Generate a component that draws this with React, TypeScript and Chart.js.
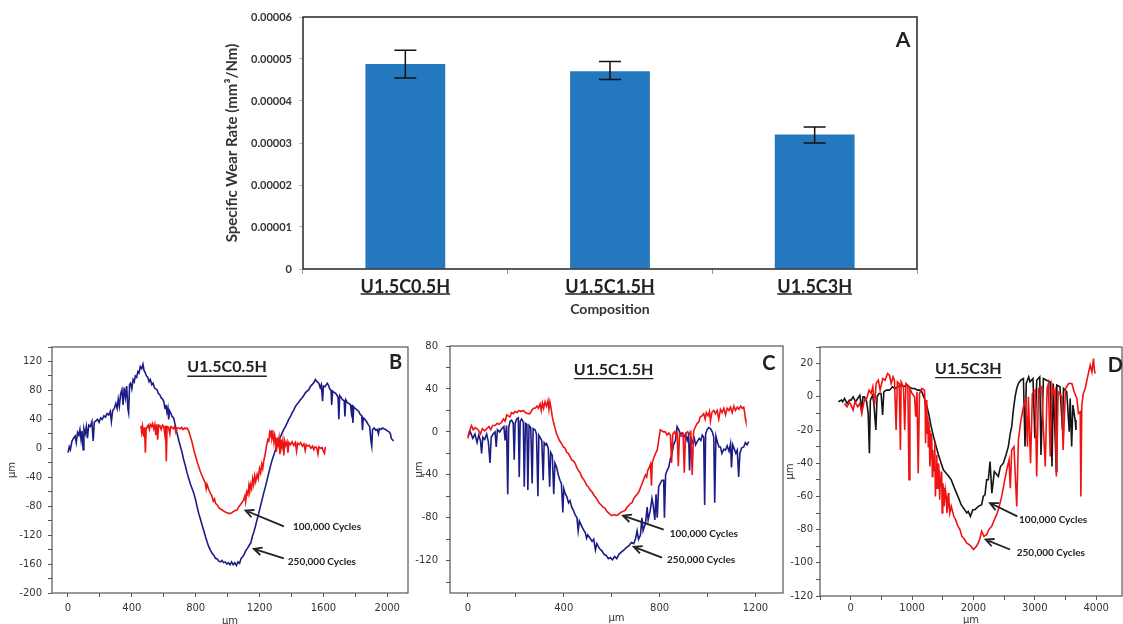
import { useEffect, useRef } from "react";
import { Chart, registerables } from "chart.js";

Chart.register(...registerables);

type Pt = [number, number];

// ---------- Panel A: specific wear rate per composition ----------
const COMPOSITIONS = ["U1.5C0.5H", "U1.5C1.5H", "U1.5C3H"];
const WEAR_RATE = [0.0000488, 0.0000471, 0.000032];
const WEAR_ERR_LOW = [0.0000455, 0.0000451, 0.00003];
const WEAR_ERR_HIGH = [0.0000521, 0.0000494, 0.0000338];
const WEAR_TICKS = [0, 0.00001, 0.00002, 0.00003, 0.00004, 0.00005, 0.00006];

const CYCLE_LABELS = ["100,000 Cycles", "250,000 Cycles"];

// ---------- Panel B: U1.5C0.5H surface profiles (µm vs µm) ----------
const B_100K: Pt[] = [
  [457, 31], [462, 22], [467, 30], [474, 16], [479, 29], [485, -6], [490, 28], [495, 29], [503, 32], [510, 26],
  [516, 33], [524, 30], [530, 34], [537, 27], [544, 33], [550, 18], [556, 33], [562, 12], [568, 32], [576, 31],
  [584, 26], [592, 32], [600, 30], [606, 20], [611, 31], [616, -18], [621, 30], [630, 29], [638, 20], [644, 30],
  [652, 29], [660, 27], [668, 30], [676, 22], [684, 28], [694, 28], [702, 27], [712, 29], [720, 26], [730, 28],
  [738, 27], [746, 28], [756, 24], [767, 16], [778, 8], [788, -2], [798, -10], [808, -18], [819, -25], [829, -32],
  [840, -38], [850, -43], [860, -48], [866, -56], [871, -50], [882, -57], [892, -62], [902, -66], [910, -73], [918, -70],
  [924, -76], [934, -78], [945, -82], [955, -84], [966, -85], [976, -87], [986, -88], [997, -89], [1007, -90], [1018, -90],
  [1028, -89], [1039, -87], [1049, -86], [1060, -85], [1070, -81], [1080, -78], [1090, -75], [1101, -71], [1108, -66], [1113, -74],
  [1120, -60], [1127, -64], [1133, -52], [1138, -60], [1143, -50], [1150, -56], [1157, -42], [1163, -50], [1170, -38], [1176, -46],
  [1185, -36], [1192, -42], [1200, -28], [1207, -34], [1214, -22], [1220, -28], [1226, -18], [1234, -10], [1240, -2], [1246, 6],
  [1252, 12], [1258, 10], [1264, 22], [1270, 18], [1273, 25], [1278, 14], [1284, 20], [1290, 8], [1295, 18], [1300, 12],
  [1305, -5], [1310, 15], [1316, 5], [1322, 14], [1328, -8], [1334, 12], [1340, 2], [1346, 11], [1352, -10], [1358, 10],
  [1364, 4], [1372, 9], [1378, -6], [1384, 8], [1394, 5], [1404, 9], [1414, 4], [1424, 8], [1432, -4], [1438, 7],
  [1448, 5], [1458, 8], [1468, 3], [1478, 6], [1486, -3], [1492, 5], [1502, 3], [1512, 4], [1522, 0], [1532, 3],
  [1540, -2], [1548, 2], [1558, 1], [1566, -8], [1572, 2], [1582, 0], [1592, 1], [1600, -4], [1607, -7], [1612, 2],
];

const B_250K: Pt[] = [
  [0, -6], [8, 2], [15, -2], [25, 10], [35, 14], [45, 17], [52, 8], [60, 22], [68, 18], [75, 26],
  [82, 12], [88, 24], [95, -2], [100, 27], [108, 20], [115, 30], [122, 14], [130, 32], [140, 30], [150, 37],
  [158, 10], [165, 36], [175, 38], [185, 40], [195, 36], [205, 42], [215, 40], [225, 45], [235, 43], [245, 48],
  [255, 46], [265, 51], [272, 37], [280, 52], [290, 55], [300, 62], [308, 55], [315, 68], [322, 58], [330, 75],
  [338, 81], [345, 60], [352, 84], [360, 70], [368, 86], [375, 55], [380, 49], [386, 88], [392, 90], [400, 82],
  [408, 95], [415, 92], [422, 100], [430, 98], [438, 106], [445, 104], [453, 113], [462, 110], [470, 116], [476, 108],
  [485, 104], [492, 100], [500, 98], [508, 92], [516, 95], [525, 88], [533, 90], [541, 84], [550, 82], [558, 81],
  [566, 76], [575, 74], [583, 70], [592, 68], [600, 65], [608, 55], [614, 60], [620, 50], [626, 56], [631, 40],
  [636, 52], [645, 48], [652, 44], [662, 42], [672, 32], [683, 21], [695, 10], [705, 2], [715, -6], [725, -16],
  [735, -24], [746, -34], [757, -42], [768, -50], [778, -56], [788, -62], [798, -70], [808, -80], [819, -90], [830, -98],
  [840, -106], [851, -114], [861, -122], [872, -130], [882, -136], [893, -141], [903, -145], [914, -148], [924, -152], [935, -153],
  [945, -156], [955, -157], [965, -155], [975, -158], [985, -157], [995, -160], [1005, -158], [1015, -161], [1025, -157], [1035, -161],
  [1045, -158], [1055, -162], [1065, -157], [1075, -159], [1085, -152], [1095, -150], [1105, -146], [1115, -141], [1125, -138], [1135, -134],
  [1145, -131], [1155, -122], [1165, -115], [1174, -108], [1184, -99], [1195, -90], [1206, -80], [1216, -71], [1226, -62], [1237, -53],
  [1247, -44], [1258, -34], [1268, -25], [1279, -16], [1290, -9], [1300, -2], [1310, 5], [1320, 10], [1331, 16], [1341, 21],
  [1352, 26], [1362, 30], [1373, 35], [1383, 40], [1394, 44], [1404, 49], [1415, 53], [1425, 58], [1435, 61], [1446, 64],
  [1456, 67], [1467, 70], [1477, 73], [1488, 77], [1498, 79], [1509, 81], [1520, 86], [1530, 88], [1540, 91], [1550, 95],
  [1560, 92], [1571, 90], [1580, 84], [1587, 88], [1595, 65], [1600, 86], [1610, 85], [1618, 88], [1624, 90], [1632, 87],
  [1640, 82], [1648, 80], [1652, 60], [1658, 79], [1668, 77], [1677, 76], [1686, 73], [1692, 70], [1697, 40], [1702, 73],
  [1712, 70], [1720, 67], [1730, 66], [1735, 44], [1740, 67], [1750, 63], [1760, 62], [1770, 60], [1775, 50], [1780, 60],
  [1785, 35], [1790, 57], [1800, 55], [1810, 53], [1822, 51], [1830, 47], [1840, 45], [1845, 25], [1850, 42], [1860, 40],
  [1870, 37], [1880, 33], [1890, 30], [1898, 10], [1903, 3], [1908, 26], [1918, 28], [1928, 25], [1937, 26], [1945, 20],
  [1950, 27], [1960, 26], [1970, 28], [1979, 27], [1990, 26], [2000, 24], [2010, 23], [2020, 20], [2025, 14], [2031, 12],
  [2040, 10],
];

// ---------- Panel C: U1.5C1.5H surface profiles ----------
const C_100K: Pt[] = [
  [0, -6], [5, 0], [15, 6], [22, 2], [30, 4], [43, 2], [52, -2], [60, 3], [70, 1], [78, 3],
  [88, 5], [95, 2], [103, 6], [113, 6], [122, 8], [130, 7], [140, 9], [148, 12], [155, 10], [162, 16],
  [168, 15], [175, 14], [182, 18], [190, 17], [196, 19], [205, 18], [214, 20], [222, 19], [231, 20], [240, 18],
  [250, 17], [259, 17], [266, 20], [273, 22], [280, 22], [288, 24], [294, 22], [301, 26], [306, 20], [311, 27],
  [316, 22], [322, 28], [328, 24], [334, 29], [338, 21], [342, 28], [347, 22], [352, 14], [358, 8], [363, 4],
  [370, -2], [376, -5], [382, -8], [391, -11], [398, -14], [405, -15], [412, -19], [419, -20], [426, -23], [433, -26],
  [440, -27], [447, -29], [454, -33], [461, -36], [468, -38], [475, -42], [482, -44], [490, -47], [496, -50], [502, -51],
  [510, -54], [518, -56], [526, -59], [537, -62], [547, -66], [556, -68], [564, -70], [572, -71], [580, -74], [590, -76],
  [600, -78], [610, -77], [618, -78], [628, -77], [637, -75], [647, -74], [657, -73], [664, -70], [670, -69], [677, -67],
  [685, -66], [692, -62], [699, -60], [706, -58], [713, -56], [720, -52], [727, -48], [734, -44], [741, -40], [746, -42],
  [750, -36], [755, -34], [762, -30], [766, -50], [769, -29], [776, -24], [783, -20], [790, -17], [796, -8], [800, -2],
  [803, 2], [810, 1], [817, 0], [824, 0], [831, -3], [838, -1], [845, -3], [850, -29], [855, -2], [862, 0],
  [868, -3], [873, -1], [878, -32], [883, -2], [890, -4], [898, -2], [903, -38], [908, -3], [916, 0], [924, -2],
  [930, 0], [936, -40], [942, 1], [950, 5], [957, 8], [963, 9], [970, 14], [977, 15], [984, 17], [990, 12],
  [995, 18], [1002, 15], [1008, 19], [1012, 10], [1018, 18], [1026, 20], [1033, 17], [1040, 20], [1047, 12], [1054, 21],
  [1061, 18], [1068, 22], [1075, 16], [1082, 22], [1089, 20], [1096, 23], [1103, 18], [1110, 24], [1117, 20], [1124, 23],
  [1131, 21], [1138, 24], [1145, 22], [1151, 23], [1155, 18], [1158, 12], [1160, 10],
];

const C_250K: Pt[] = [
  [0, -4], [10, 0], [20, -6], [29, -2], [38, -10], [45, -3], [52, -8], [57, -20], [62, -5], [70, -7],
  [78, -2], [85, -9], [92, -29], [97, -5], [105, -2], [113, 0], [118, -14], [123, 2], [132, 0], [141, 3],
  [150, 5], [155, -8], [161, 6], [166, -58], [170, 4], [176, 10], [182, 11], [189, 8], [193, -26], [197, 8],
  [203, 12], [210, 13], [214, -42], [218, 10], [224, 12], [231, 9], [235, -51], [240, 8], [246, 7], [250, -54],
  [255, 6], [262, 4], [268, -48], [272, 3], [280, 2], [286, -2], [292, -60], [296, -3], [301, -5], [308, -8],
  [314, -45], [318, -10], [325, -12], [328, -11], [335, -15], [341, -51], [345, -19], [352, -22], [358, -58], [363, -29],
  [370, -33], [377, -40], [384, -45], [390, -48], [396, -75], [400, -53], [405, -57], [412, -60], [420, -66], [426, -64],
  [433, -70], [440, -73], [447, -77], [455, -80], [460, -92], [465, -83], [475, -88], [482, -91], [490, -94], [495, -99],
  [500, -96], [510, -99], [518, -102], [525, -100], [532, -110], [538, -104], [545, -107], [551, -109], [560, -111], [568, -114],
  [577, -115], [586, -118], [594, -117], [603, -119], [612, -116], [621, -118], [630, -114], [640, -112], [650, -110], [660, -108],
  [672, -106], [682, -103], [692, -104], [700, -99], [706, -92], [712, -100], [720, -96], [726, -80], [731, -92], [741, -85],
  [748, -70], [752, -82], [761, -73], [768, -62], [773, -68], [780, -82], [785, -58], [790, -80], [796, -51], [803, -48],
  [810, -45], [817, -45], [820, -80], [825, -40], [831, -36], [838, -33], [845, -25], [852, -20], [858, -12], [866, -8],
  [870, 0], [873, 5], [880, 2], [887, -2], [894, -1], [901, -5], [908, -2], [915, -8], [921, -3], [925, -36],
  [930, -5], [938, -10], [945, -6], [950, -12], [957, -9], [965, -6], [972, -8], [978, -3], [984, -5], [988, -68],
  [992, -2], [998, 2], [1005, 4], [1012, 3], [1020, 0], [1026, -5], [1030, -66], [1035, -4], [1042, -10], [1048, -14],
  [1054, -14], [1060, -20], [1068, -16], [1075, -17], [1082, -13], [1090, -18], [1096, -11], [1100, -33], [1105, -12], [1112, -16],
  [1118, -20], [1124, -17], [1130, -42], [1135, -20], [1142, -15], [1151, -14], [1158, -10], [1165, -12], [1172, -9],
];

// ---------- Panel D: U1.5C3H surface profiles ----------
const D_100K: Pt[] = [
  [-200, -3], [-150, -2], [-131, -3], [-100, -1], [-60, -4], [-20, -2], [5, -2], [40, 0], [80, -3], [114, -1],
  [150, 1], [180, -8], [200, 0], [223, 0], [260, -3], [285, -10], [305, -34], [320, -2], [359, 1], [380, -5],
  [410, -20], [430, 0], [460, 2], [495, 2], [520, -11], [540, 3], [580, 4], [632, 4], [680, 6], [720, 5],
  [767, 6], [820, 7], [860, 6], [903, 7], [950, 6], [1000, 5], [1040, 5], [1090, 4], [1148, 4], [1190, 0],
  [1230, -4], [1270, -10], [1311, -18], [1350, -24], [1393, -30], [1430, -35], [1474, -40], [1510, -44], [1556, -46], [1600, -48],
  [1638, -50], [1690, -55], [1747, -60], [1800, -65], [1856, -68], [1890, -70], [1915, -69], [1950, -72], [1990, -68], [2024, -68],
  [2080, -66], [2134, -65], [2160, -60], [2188, -59], [2215, -50], [2242, -50], [2270, -39], [2300, -58], [2340, -45], [2405, -48],
  [2440, -42], [2487, -40], [2530, -35], [2568, -30], [2600, -22], [2623, -18], [2650, -8], [2678, 0], [2705, 5], [2732, 8],
  [2770, 10], [2814, 11], [2840, -30], [2860, 8], [2900, 12], [2922, 9], [2970, 11], [3000, -25], [3031, 10], [3080, 12],
  [3100, -35], [3140, 11], [3190, 10], [3249, 9], [3280, -42], [3300, 8], [3350, -45], [3358, 7], [3410, 6], [3450, -20],
  [3467, 5], [3520, 3], [3560, -21], [3576, -1], [3600, -30], [3620, -5], [3657, -14], [3670, -20],
];

const D_250K: Pt[] = [
  [-103, -4], [-60, -6], [-20, -3], [5, -5], [40, -8], [70, -3], [114, -6], [150, -4], [180, -10], [223, -2],
  [260, -1], [300, 4], [332, 2], [360, 6], [390, -5], [414, 8], [450, 10], [480, 4], [522, 11], [560, 10],
  [600, 14], [632, 13], [660, 8], [690, 12], [713, 10], [740, -20], [760, 9], [790, 8], [810, -32], [822, 9],
  [860, 6], [880, -20], [900, 8], [931, 7], [950, -50], [965, 5], [1000, 2], [1040, 0], [1060, -12], [1080, 3],
  [1100, -46], [1121, 2], [1160, 5], [1203, 4], [1215, -10], [1220, -28], [1230, -2], [1240, -5], [1248, -22], [1257, -12],
  [1265, -30], [1272, -15], [1280, -20], [1290, -42], [1300, -35], [1310, -22], [1320, -25], [1330, -48], [1339, -32], [1350, -45],
  [1360, -40], [1370, -28], [1380, -60], [1393, -44], [1402, -35], [1410, -55], [1420, -52], [1430, -40], [1440, -45], [1450, -62],
  [1460, -48], [1474, -54], [1482, -45], [1490, -70], [1500, -52], [1510, -55], [1520, -66], [1530, -62], [1542, -56], [1556, -60],
  [1568, -70], [1580, -66], [1590, -58], [1600, -62], [1615, -70], [1638, -66], [1680, -72], [1710, -74], [1747, -78], [1780, -80],
  [1810, -84], [1856, -86], [1889, -88], [1930, -89], [1960, -90], [2000, -92], [2024, -91], [2050, -90], [2078, -88], [2100, -86],
  [2134, -81], [2170, -84], [2215, -83], [2250, -80], [2297, -78], [2330, -75], [2378, -71], [2420, -66], [2460, -60], [2500, -52],
  [2542, -44], [2580, -38], [2600, -55], [2623, -32], [2660, -30], [2705, -66], [2732, -26], [2770, -15], [2814, -6], [2850, -2],
  [2880, -30], [2895, 0], [2930, -40], [2960, 2], [3004, 4], [3030, -48], [3060, 5], [3113, 6], [3140, -20], [3170, -42],
  [3200, 5], [3221, 8], [3250, -36], [3280, 7], [3310, 2], [3330, 4], [3350, -48], [3380, 3], [3439, 0], [3460, -32],
  [3500, 5], [3550, 8], [3603, 8], [3640, 3], [3685, -1], [3710, -10], [3739, -9], [3750, -60], [3765, -5], [3790, 2],
  [3821, 5], [3860, 12], [3902, 19], [3930, 15], [3956, 23], [3970, 16], [3984, 14],
];

// Colours
const BAR_BLUE = "#2478be";
const NAVY = "#1c1c86";
const RED = "#ee1414";
const BLACK = "#151515";

const steps = (from: number, to: number, step: number) => {
  const out: number[] = [];
  for (let v = from; v <= to + 1e-9; v += step) out.push(Math.round(v * 1e6) / 1e6);
  return out;
};

// Box around the plotting area
const framePlugin = (color: string, width: number) => ({
  id: "frame",
  afterDraw(chart: any) {
    const { ctx, chartArea: a } = chart;
    ctx.save();
    ctx.strokeStyle = color;
    ctx.lineWidth = width;
    ctx.strokeRect(a.left, a.top, a.right - a.left, a.bottom - a.top);
    ctx.restore();
  },
});

// Error bars, underlined category labels and the panel letter for the bar chart
const barExtrasPlugin = {
  id: "barExtras",
  afterDraw(chart: any) {
    const { ctx, chartArea: a, scales } = chart;
    const xs = scales.x;
    const ys = scales.y;
    ctx.save();
    ctx.strokeStyle = "#111";
    ctx.lineWidth = 1.5;
    WEAR_RATE.forEach((_, i) => {
      const x = xs.getPixelForValue(i);
      const lo = ys.getPixelForValue(WEAR_ERR_LOW[i]);
      const hi = ys.getPixelForValue(WEAR_ERR_HIGH[i]);
      ctx.beginPath();
      ctx.moveTo(x, lo);
      ctx.lineTo(x, hi);
      ctx.moveTo(x - 11, lo);
      ctx.lineTo(x + 11, lo);
      ctx.moveTo(x - 11, hi);
      ctx.lineTo(x + 11, hi);
      ctx.stroke();
    });
    ctx.font = "bold 18px Lato";
    ctx.strokeStyle = "#222";
    ctx.lineWidth = 1.5;
    COMPOSITIONS.forEach((label, i) => {
      const x = xs.getPixelForValue(i);
      const w = ctx.measureText(label).width;
      const y = a.bottom + 25;
      ctx.beginPath();
      ctx.moveTo(x - w / 2, y);
      ctx.lineTo(x + w / 2, y);
      ctx.stroke();
    });
    ctx.font = "bold 21px Lato";
    ctx.fillStyle = "#222";
    ctx.textAlign = "center";
    ctx.textBaseline = "middle";
    ctx.fillText("A", a.right - 14, a.top + 23);
    ctx.restore();
  },
};

interface Note {
  title: string;
  titleAt: Pt;
  letter: string;
  letterAt: Pt;
  arrows: { from: Pt; to: Pt; textAt: Pt }[];
}

// Inner title, panel letter and the arrows pointing at each profile
const notesPlugin = (n: Note) => ({
  id: "notes",
  afterDraw(chart: any) {
    const { ctx, scales } = chart;
    const px = (p: Pt) => [scales.x.getPixelForValue(p[0]), scales.y.getPixelForValue(p[1])];
    ctx.save();
    ctx.fillStyle = "#222";
    ctx.strokeStyle = "#222";
    ctx.textBaseline = "middle";
    ctx.textAlign = "center";
    ctx.font = "bold 16px Lato";
    const [tx, ty] = px(n.titleAt);
    ctx.fillText(n.title, tx, ty);
    const tw = ctx.measureText(n.title).width;
    ctx.lineWidth = 1.4;
    ctx.beginPath();
    ctx.moveTo(tx - tw / 2, ty + 9);
    ctx.lineTo(tx + tw / 2, ty + 9);
    ctx.stroke();
    ctx.font = "bold 20px Lato";
    const [lx, ly] = px(n.letterAt);
    ctx.fillText(n.letter, lx, ly);

    ctx.font = "bold 10px Lato";
    ctx.textAlign = "left";
    n.arrows.forEach((arrow, i) => {
      const [x0, y0] = px(arrow.from);
      const [x1, y1] = px(arrow.to);
      const ang = Math.atan2(y1 - y0, x1 - x0);
      ctx.lineWidth = 1.8;
      ctx.beginPath();
      ctx.moveTo(x0, y0);
      ctx.lineTo(x1, y1);
      ctx.moveTo(x1 - 9 * Math.cos(ang - 0.45), y1 - 9 * Math.sin(ang - 0.45));
      ctx.lineTo(x1, y1);
      ctx.lineTo(x1 - 9 * Math.cos(ang + 0.45), y1 - 9 * Math.sin(ang + 0.45));
      ctx.stroke();
      const [sx, sy] = px(arrow.textAt);
      ctx.fillText(CYCLE_LABELS[i], sx, sy);
    });
    ctx.restore();
  },
});

interface Box { x: number; y: number; w: number; h: number }

function ChartCanvas({ box, make }: { box: Box; make: () => any }) {
  const ref = useRef<HTMLCanvasElement>(null);
  useEffect(() => {
    const chart = new Chart(ref.current as HTMLCanvasElement, make());
    return () => chart.destroy();
  }, []);
  return (
    <canvas
      ref={ref}
      width={box.w}
      height={box.h}
      style={{ position: "absolute", left: box.x, top: box.y, width: box.w, height: box.h }}
    />
  );
}

const barConfig = () => ({
  type: "bar",
  data: {
    labels: COMPOSITIONS,
    datasets: [
      { data: WEAR_RATE, backgroundColor: BAR_BLUE, categoryPercentage: 1, barPercentage: 0.39 },
    ],
  },
  options: {
    responsive: false,
    animation: false,
    events: [],
    layout: { padding: { top: 17, right: 23, left: 0, bottom: 0 } },
    plugins: { legend: { display: false }, tooltip: { enabled: false } },
    scales: {
      x: {
        grid: { display: true, drawOnChartArea: false, offset: true, tickLength: 5, color: "#999" },
        border: { display: false },
        ticks: { font: { family: "Lato", size: 18, weight: "bold" }, color: "#222", padding: 2 },
        title: {
          display: true,
          text: "Composition",
          font: { family: "Lato", size: 14, weight: "bold" },
          color: "#333",
          padding: { top: 0, bottom: 12 },
        },
        afterFit: (s: any) => { s.height = 61; },
      },
      y: {
        min: 0,
        max: 0.00006,
        afterBuildTicks: (s: any) => { s.ticks = WEAR_TICKS.map((value) => ({ value })); },
        grid: { display: true, drawOnChartArea: false, drawTicks: true, tickLength: 4, color: "#bbb" },
        border: { display: false },
        ticks: {
          callback: (v: any) => (Number(v) === 0 ? "0" : Number(v).toFixed(5)),
          font: { family: "Lato", size: 11, weight: "bold" },
          color: "#333",
          padding: 7,
        },
        title: {
          display: true,
          text: "Specific Wear Rate (mm³/Nm)",
          font: { family: "Lato", size: 15, weight: "bold" },
          color: "#333",
          padding: { top: 23, bottom: 0 },
        },
        afterFit: (s: any) => { s.width = 103; },
      },
    },
  },
  plugins: [framePlugin("#333", 1.6), barExtrasPlugin],
});

interface ProfileSpec {
  series: { data: Pt[]; color: string }[];
  xRange: Pt;
  xTicks: number[];
  xMajor: number;
  yRange: Pt;
  yTicks: number[];
  yMajor: number;
  pad: { top: number; right: number };
  yWidth: number;
  xHeight: number;
  yTitlePad: number;
  xTitlePad: number;
  yTickPad: number;
  xTickPad: number;
  note: Note;
}

const tickFont = { family: "DejaVu Sans", size: 10 };
const isMajor = (v: number, m: number) => Math.abs(v % m) < 1e-6;

const profileConfig = (p: ProfileSpec) => () => ({
  type: "scatter",
  data: {
    datasets: p.series.map((s) => ({
      data: s.data,
      showLine: true,
      borderColor: s.color,
      borderWidth: 1.6,
      pointRadius: 0,
      tension: 0,
    })),
  },
  options: {
    responsive: false,
    animation: false,
    events: [],
    layout: { padding: { top: p.pad.top, right: p.pad.right, left: 0, bottom: 0 } },
    plugins: { legend: { display: false }, tooltip: { enabled: false } },
    scales: {
      x: {
        type: "linear",
        min: p.xRange[0],
        max: p.xRange[1],
        afterBuildTicks: (s: any) => { s.ticks = p.xTicks.map((value) => ({ value })); },
        grid: { display: true, drawOnChartArea: false, tickLength: 4, color: "#555" },
        border: { display: false },
        ticks: {
          autoSkip: false,
          maxRotation: 0,
          minRotation: 0,
          callback: (v: any) => (isMajor(Number(v), p.xMajor) ? String(v) : ""),
          font: tickFont,
          color: "#333",
          padding: p.xTickPad,
        },
        title: {
          display: true,
          text: "µm",
          font: { family: "DejaVu Sans", size: 10 },
          color: "#333",
          padding: { top: 0, bottom: p.xTitlePad },
        },
        afterFit: (s: any) => { s.height = p.xHeight; },
      },
      y: {
        type: "linear",
        min: p.yRange[0],
        max: p.yRange[1],
        afterBuildTicks: (s: any) => { s.ticks = p.yTicks.map((value) => ({ value })); },
        grid: { display: true, drawOnChartArea: false, tickLength: 4, color: "#555" },
        border: { display: false },
        ticks: {
          autoSkip: false,
          callback: (v: any) => (isMajor(Number(v), p.yMajor) ? String(v) : ""),
          font: tickFont,
          color: "#333",
          padding: p.yTickPad,
        },
        title: {
          display: true,
          text: "µm",
          font: { family: "DejaVu Sans", size: 10 },
          color: "#333",
          padding: { top: p.yTitlePad, bottom: 0 },
        },
        afterFit: (s: any) => { s.width = p.yWidth; },
      },
    },
  },
  plugins: [framePlugin("#555", 1.2), notesPlugin(p.note)],
});

const panelB: ProfileSpec = {
  series: [
    { data: B_100K, color: RED },
    { data: B_250K, color: NAVY },
  ],
  xRange: [-100, 2130],
  xTicks: steps(0, 2000, 200),
  xMajor: 400,
  yRange: [-200, 140],
  yTicks: steps(-200, 140, 20),
  yMajor: 40,
  pad: { top: 17, right: 4 },
  yWidth: 52,
  xHeight: 41,
  yTitlePad: 6,
  xTitlePad: 7,
  yTickPad: 6,
  xTickPad: 5,
  note: {
    title: "U1.5C0.5H",
    titleAt: [997, 112],
    letter: "B",
    letterAt: [2052, 118],
    arrows: [
      { from: [1352, -108], to: [1112, -86], textAt: [1409, -109] },
      { from: [1352, -152], to: [1164, -139], textAt: [1377, -157] },
    ],
  },
};

const panelC: ProfileSpec = {
  series: [
    { data: C_100K, color: RED },
    { data: C_250K, color: NAVY },
  ],
  xRange: [-75, 1315],
  xTicks: steps(0, 1200, 200),
  xMajor: 400,
  yRange: [-150, 80],
  yTicks: steps(-140, 80, 20),
  yMajor: 40,
  pad: { top: 16, right: 7 },
  yWidth: 50,
  xHeight: 41,
  yTitlePad: 13,
  xTitlePad: 10,
  yTickPad: 8,
  xTickPad: 5,
  note: {
    title: "U1.5C1.5H",
    titleAt: [608, 58],
    letter: "C",
    letterAt: [1256, 64],
    arrows: [
      { from: [817, -91], to: [647, -78], textAt: [842, -94.5] },
      { from: [810, -117], to: [692, -107], textAt: [831, -119] },
    ],
  },
};

const panelD: ProfileSpec = {
  series: [
    { data: D_250K, color: RED },
    { data: D_100K, color: BLACK },
  ],
  xRange: [-500, 4420],
  xTicks: steps(-500, 4000, 500),
  xMajor: 1000,
  yRange: [-120, 30],
  yTicks: steps(-120, 30, 10),
  yMajor: 20,
  pad: { top: 17, right: 1 },
  yWidth: 40,
  xHeight: 38,
  yTitlePad: 4,
  xTitlePad: 8,
  yTickPad: 3,
  xTickPad: 2,
  note: {
    title: "U1.5C3H",
    titleAt: [1916, 17],
    letter: "D",
    letterAt: [4310, 19],
    arrows: [
      { from: [2715, -72], to: [2269, -64], textAt: [2743, -74] },
      { from: [2596, -92], to: [2199, -86], textAt: [2705, -94] },
    ],
  },
};

export default function App() {
  return (
    <div
      style={{
        position: "absolute",
        left: 0,
        top: 0,
        width: 1123,
        height: 624,
        overflow: "hidden",
        background: "#fff",
      }}
    >
      <ChartCanvas box={{ x: 200, y: 0, w: 740, h: 330 }} make={barConfig} />
      <ChartCanvas box={{ x: 0, y: 330, w: 412, h: 304 }} make={profileConfig(panelB)} />
      <ChartCanvas box={{ x: 400, y: 330, w: 390, h: 304 }} make={profileConfig(panelC)} />
      <ChartCanvas box={{ x: 780, y: 330, w: 343, h: 304 }} make={profileConfig(panelD)} />
    </div>
  );
}
